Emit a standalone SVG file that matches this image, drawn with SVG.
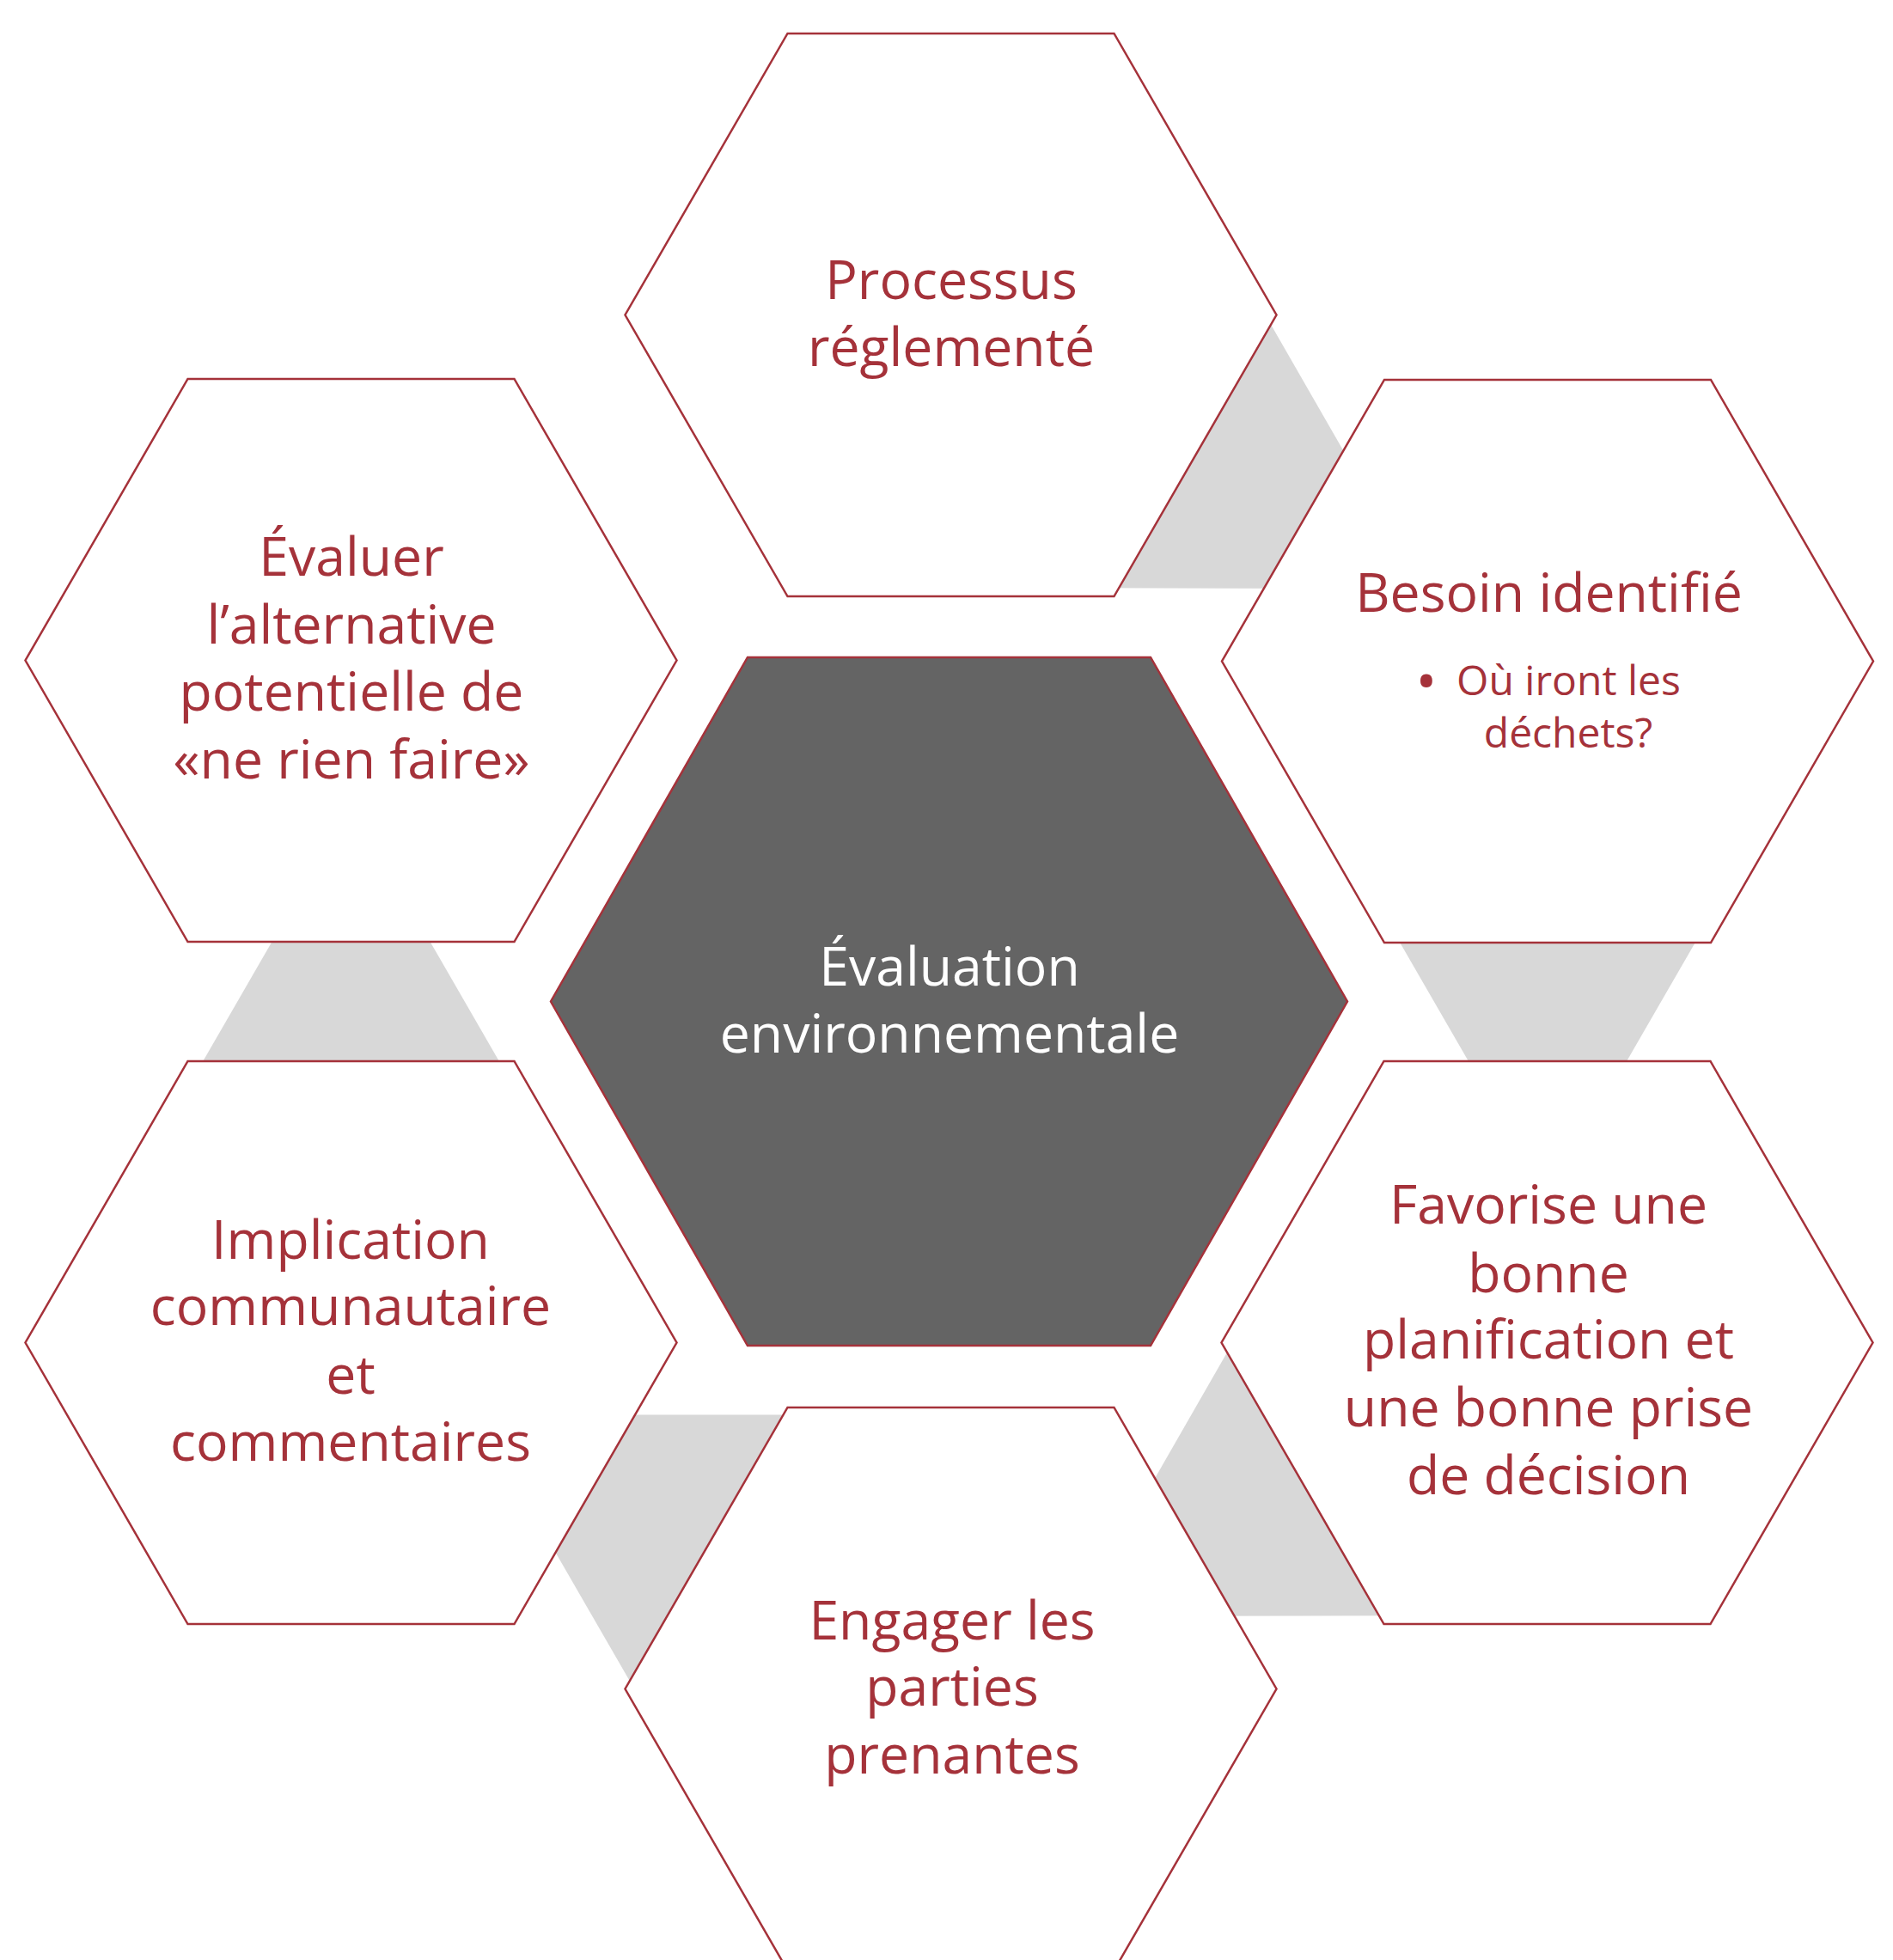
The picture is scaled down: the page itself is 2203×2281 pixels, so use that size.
<svg xmlns="http://www.w3.org/2000/svg" width="2203" height="2281" viewBox="0 0 2203 2281">
<style>
.hex{fill:#ffffff;stroke:#a5323a;stroke-width:2.5;stroke-linejoin:miter}
.core{fill:#646464;stroke:#a5323a;stroke-width:2.5}
.link{fill:#d8d8d8;stroke:none}
text{font-family:"Open Sans","Noto Sans","Liberation Sans",sans-serif;font-size:62.5px;text-anchor:middle;fill:#a5323a}
.w{fill:#ffffff}
.sub{font-size:48px}
.bul{font-size:66px}
</style>
<rect x="0" y="0" width="2203" height="2281" fill="#ffffff"/>
<g id="connectors">
<polygon class="link" points="1405.5,249.7 1655.7,685.2 1153.5,684.1"/>
<polygon class="link" points="1555.6,969.5 2046.4,969.5 1801,1394.5"/>
<polygon class="link" points="1501.5,1445.9 1753.5,1879.9 1251.8,1881.1"/>
<polygon class="link" points="1059.7,1646.5 806.9,2084.5 554,1646.5"/>
<polygon class="link" points="162.6,1362.5 654.4,1362.5 408.5,936.5"/>
</g>
<g id="node-top">
<polygon class="hex" points="916.5,39 1296.5,39 1485.5,366.5 1296.5,694 916.5,694 727.5,366.5"/>
<text x="1107" y="347.5">Processus</text>
<text x="1107" y="426">réglementé</text>
</g>
<g id="node-besoin">
<polygon class="hex" points="1611,442 1991,442 2180,769.5 1991,1097 1611,1097 1422,769.5"/>
<text x="1802.5" y="712">Besoin identifié</text>
<text class="bul" x="1660" y="816">•</text>
<text class="sub" x="1825.5" y="809">Où iront les</text>
<text class="sub" x="1825" y="870">déchets?</text>
</g>
<g id="node-favorise">
<polygon class="hex" points="1610.5,1235 1990.5,1235 2179.5,1562.5 1990.5,1890 1610.5,1890 1421.5,1562.5"/>
<text x="1802" y="1424">Favorise une</text>
<text x="1802" y="1503.5">bonne</text>
<text x="1802" y="1581">planification et</text>
<text x="1802" y="1659.5">une bonne prise</text>
<text x="1802" y="1739">de décision</text>
</g>
<g id="node-engager">
<polygon class="hex" points="916.5,1638 1296.5,1638 1485.5,1965.5 1296.5,2293 916.5,2293 727.5,1965.5"/>
<text x="1108" y="1907.5">Engager les</text>
<text x="1108" y="1985">parties</text>
<text x="1108" y="2063.5">prenantes</text>
</g>
<g id="node-implication">
<polygon class="hex" points="218.5,1235 598.5,1235 787.5,1562.5 598.5,1890 218.5,1890 29.5,1562.5"/>
<text x="408" y="1465">Implication</text>
<text x="408" y="1542">communautaire</text>
<text x="408" y="1621.5">et</text>
<text x="408" y="1700">commentaires</text>
</g>
<g id="node-evaluer">
<polygon class="hex" points="218.5,441 598.5,441 787.5,768.5 598.5,1096 218.5,1096 29.5,768.5"/>
<text x="409" y="670">Évaluer</text>
<text x="409" y="749">l’alternative</text>
<text x="409" y="827">potentielle de</text>
<text x="409" y="906">«ne rien faire»</text>
</g>
<g id="node-center">
<polygon class="core" points="870,765 1339,765 1568,1165.5 1339,1566 870,1566 641,1165.5"/>
<text class="w" x="1105" y="1146.5">Évaluation</text>
<text class="w" x="1105" y="1225">environnementale</text>
</g>
</svg>
